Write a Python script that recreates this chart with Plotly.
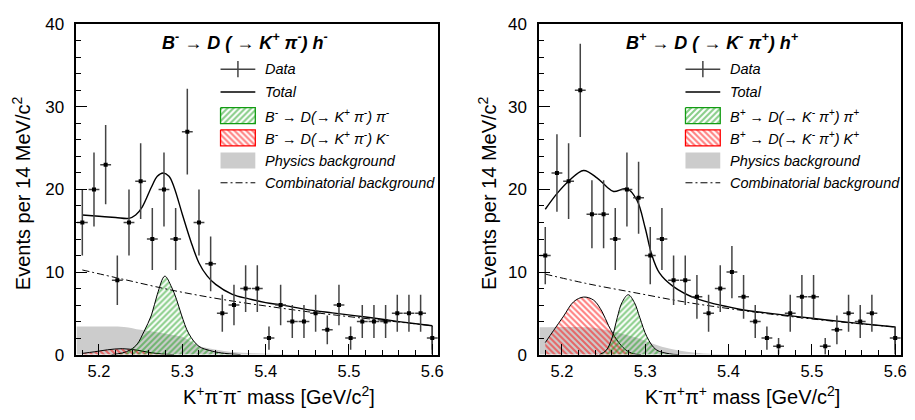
import numpy as np
import plotly.graph_objects as go

# ---------------- data ----------------
bin_centers = [5.180, 5.194, 5.208, 5.222, 5.236, 5.250, 5.264, 5.278, 5.292, 5.306,
               5.320, 5.334, 5.348, 5.362, 5.376, 5.390, 5.404, 5.418, 5.432, 5.446,
               5.460, 5.474, 5.488, 5.502, 5.516, 5.530, 5.544, 5.558, 5.572, 5.586, 5.600]
left_counts = [16, 20, 23, 9, 16, 21, 14, 20, 14, 27, 16, 11, 5, 6, 8, 8, 2, 6, 4, 4,
               5, 3, 6, 2, 4, 4, 4, 5, 5, 5, 2]
right_counts = [12, 22, 21, 32, 17, 17, 14, 20, 19, 12, 14, 9, 9, 7, 5, 8, 10, 7, 4, 2,
                1, 5, 7, 7, 1, 3, 5, 4, 5, 0, 2]

# left panel curves
left_total_x = [5.180, 5.200, 5.220, 5.236, 5.244, 5.252, 5.263, 5.270, 5.277, 5.284, 5.290,
                5.300, 5.310, 5.320, 5.330, 5.340, 5.360, 5.380, 5.400, 5.420, 5.450, 5.480,
                5.520, 5.560, 5.600]
left_total_y = [16.9, 16.75, 16.6, 16.5, 16.9, 17.9, 20.3, 21.6, 22.0, 21.6, 20.3,
                17.0, 13.8, 11.1, 9.5, 8.5, 7.3, 6.75, 6.3, 6.0, 5.45, 5.05,
                4.55, 4.0, 3.5]
left_comb_x = [5.180, 5.230, 5.290, 5.350, 5.410, 5.450, 5.500, 5.550, 5.600]
left_comb_y = [10.25, 9.1, 7.75, 6.65, 5.75, 5.2, 4.6, 4.05, 3.5]
left_dpi_x = [5.215, 5.228, 5.238, 5.246, 5.254, 5.263, 5.270, 5.279, 5.287, 5.293,
              5.299, 5.308, 5.320, 5.333, 5.347, 5.370]
left_dpi_y = [0.0, 0.2, 0.6, 1.3, 2.8, 4.8, 7.3, 9.5, 8.2, 6.7,
              4.8, 2.5, 1.0, 0.5, 0.2, 0.0]
left_dk_x = [5.180, 5.195, 5.210, 5.228, 5.245, 5.260, 5.275, 5.290]
left_dk_y = [0.15, 0.35, 0.58, 0.72, 0.55, 0.28, 0.08, 0.0]
left_phys_x = [5.173, 5.200, 5.230, 5.250, 5.270, 5.290, 5.300, 5.310, 5.320, 5.330,
               5.350, 5.380, 5.420, 5.460]
left_phys_y = [3.4, 3.4, 3.35, 3.0, 2.7, 2.35, 2.15, 1.6, 1.05, 0.8,
               0.45, 0.2, 0.07, 0.0]

# right panel curves
right_total_x = [5.180, 5.194, 5.208, 5.226, 5.242, 5.254, 5.262, 5.278, 5.290, 5.300,
                 5.3075, 5.317, 5.333, 5.361, 5.413, 5.450, 5.500, 5.550, 5.600]
right_total_y = [17.6, 19.5, 21.0, 22.3, 21.4, 20.3, 19.75, 20.1, 18.7, 15.3,
                 12.2, 9.9, 8.3, 6.8, 5.5, 5.0, 4.4, 3.85, 3.35]
right_comb_x = [5.180, 5.230, 5.290, 5.350, 5.410, 5.450, 5.500, 5.550, 5.600]
right_comb_y = [9.75, 8.6, 7.45, 6.33, 5.44, 4.91, 4.32, 3.8, 3.35]
right_dpi_x = [5.245, 5.253, 5.260, 5.2664, 5.272, 5.2796, 5.287, 5.2935, 5.302,
               5.313, 5.329, 5.340]
right_dpi_y = [0.0, 0.5, 2.0, 4.47, 6.3, 7.25, 6.3, 4.47, 2.16, 0.6, 0.1, 0.0]
right_dk_x = [5.180, 5.190, 5.202, 5.214, 5.226, 5.238, 5.248, 5.256, 5.266, 5.276,
              5.286, 5.295]
right_dk_y = [1.46, 2.93, 4.66, 6.4, 6.97, 6.6, 5.24, 3.5, 1.77, 0.62, 0.1, 0.0]
right_phys_x = [5.173, 5.200, 5.230, 5.250, 5.270, 5.290, 5.310, 5.330, 5.350, 5.370,
                5.400, 5.430]
right_phys_y = [3.3, 3.35, 3.3, 3.05, 2.6, 2.05, 1.3, 0.7, 0.35, 0.15, 0.05, 0.0]

x_tick_labels = ["5.2", "5.3", "5.4", "5.5", "5.6"]
x_tick_vals = [5.2, 5.3, 5.4, 5.5, 5.6]
y_tick_vals = [0, 10, 20, 30, 40]

left_title = "<b><i>B<sup>-</sup> → D ( → K<sup>+</sup> π<sup>-</sup>) h<sup>-</sup></i></b>"
right_title = "<b><i>B<sup>+</sup> → D ( → K<sup>-</sup> π<sup>+</sup>) h<sup>+</sup></i></b>"
left_legend = ["Data", "Total",
               "B<sup>-</sup> → D(→ K<sup>+</sup> π<sup>-</sup>) π<sup>-</sup>",
               "B<sup>-</sup> → D(→ K<sup>+</sup> π<sup>-</sup>) K<sup>-</sup>",
               "Physics background", "Combinatorial background"]
right_legend = ["Data", "Total",
                "B<sup>+</sup> → D(→ K<sup>-</sup> π<sup>+</sup>) π<sup>+</sup>",
                "B<sup>+</sup> → D(→ K<sup>-</sup> π<sup>+</sup>) K<sup>+</sup>",
                "Physics background", "Combinatorial background"]
y_title = "Events per 14 MeV/c<sup>2</sup>"
left_x_title = "K<sup>+</sup>π<sup>-</sup>π<sup>-</sup> mass [GeV/c<sup>2</sup>]"
right_x_title = "K<sup>-</sup>π<sup>+</sup>π<sup>+</sup> mass [GeV/c<sup>2</sup>]"

# ---------------- styles / layout constants ----------------
W, H = 915, 420
FONT = "Liberation Sans, Arial, Helvetica, sans-serif"
GREEN = "#129c12"
RED = "#ff0000"
GRAY = "#cccccc"
ERRC = "#444444"
COMB_DASH = "7px,3px,2px,3px"
HALF_BIN = 0.0065
X_RANGE = [5.173, 5.607]
Y_RANGE = [0, 40]
PANELS_PX = [(77, 441), (543, 907)]
Y_PX = (16, 362)
HATCH = dict(bgcolor="rgba(0,0,0,0)", size=4.2, solidity=0.5)

fig = go.Figure()


def add_panel(xa, ya, counts, phys, dk, dpi, comb, total):
    fig.add_trace(go.Scatter(x=phys[0], y=phys[1], xaxis=xa, yaxis=ya, mode="lines",
                             line=dict(width=0, shape="spline"), fill="tozeroy",
                             fillcolor=GRAY, showlegend=False, hoverinfo="skip"))
    fig.add_trace(go.Scatter(x=dk[0], y=dk[1], xaxis=xa, yaxis=ya, mode="lines",
                             line=dict(color="black", width=1, shape="spline"),
                             fill="tozeroy", fillcolor="rgba(0,0,0,0)",
                             fillpattern=dict(shape="\\", fgcolor=RED, **HATCH),
                             showlegend=False))
    fig.add_trace(go.Scatter(x=dpi[0], y=dpi[1], xaxis=xa, yaxis=ya, mode="lines",
                             line=dict(color="black", width=1, shape="spline"),
                             fill="tozeroy", fillcolor="rgba(0,0,0,0)",
                             fillpattern=dict(shape="/", fgcolor=GREEN, **HATCH),
                             showlegend=False))
    fig.add_trace(go.Scatter(x=comb[0], y=comb[1], xaxis=xa, yaxis=ya, mode="lines",
                             line=dict(color="black", width=1, dash=COMB_DASH,
                                       shape="spline"), showlegend=False))
    fig.add_trace(go.Scatter(x=total[0], y=total[1], xaxis=xa, yaxis=ya, mode="lines",
                             line=dict(color="black", width=1.4, shape="spline"),
                             showlegend=False))
    fig.add_trace(go.Scatter(x=[total[0][-1], total[0][-1]], y=[total[1][-1], 0],
                             xaxis=xa, yaxis=ya, mode="lines",
                             line=dict(color="black", width=1.4), showlegend=False))
    c = np.array(counts, dtype=float)
    xb = np.array(bin_centers)
    keep = c > 0
    fig.add_trace(go.Scatter(x=xb[keep], y=c[keep], xaxis=xa, yaxis=ya, mode="markers",
                             marker=dict(symbol="square", size=4, color="black"),
                             error_y=dict(type="data", array=np.sqrt(c[keep]),
                                          color=ERRC, thickness=1.5, width=0),
                             error_x=dict(type="constant", value=HALF_BIN,
                                          color=ERRC, thickness=1.5, width=0),
                             showlegend=False))


add_panel("x", "y", left_counts, (left_phys_x, left_phys_y), (left_dk_x, left_dk_y),
          (left_dpi_x, left_dpi_y), (left_comb_x, left_comb_y),
          (left_total_x, left_total_y))
add_panel("x2", "y2", right_counts, (right_phys_x, right_phys_y),
          (right_dk_x, right_dk_y), (right_dpi_x, right_dpi_y),
          (right_comb_x, right_comb_y), (right_total_x, right_total_y))

# ---------------- legend glyphs on a pixel overlay axis ----------------
LEG_X0 = [222, 690]
LEG_LEN = 35
LEG_TEXT_GAP = 8
LEG_ROWS = [63, 87, 111.7, 135, 158.7, 182]
BOX_HALF = 8.4
TICK_HALF = 8.5
annotations = []
for p, labels in enumerate([left_legend, right_legend]):
    x0 = LEG_X0[p]
    x1 = x0 + LEG_LEN
    xm = (x0 + x1) / 2
    # Data
    fig.add_trace(go.Scatter(x=[x0, x1], y=[LEG_ROWS[0]] * 2, xaxis="x3", yaxis="y3",
                             mode="lines", line=dict(color=ERRC, width=1.5),
                             showlegend=False, hoverinfo="skip"))
    fig.add_trace(go.Scatter(x=[xm, xm], y=[LEG_ROWS[0] - TICK_HALF,
                                            LEG_ROWS[0] + TICK_HALF],
                             xaxis="x3", yaxis="y3", mode="lines",
                             line=dict(color=ERRC, width=1.5),
                             showlegend=False, hoverinfo="skip"))
    # Total
    fig.add_trace(go.Scatter(x=[x0, x1], y=[LEG_ROWS[1]] * 2, xaxis="x3", yaxis="y3",
                             mode="lines", line=dict(color="black", width=1.4),
                             showlegend=False, hoverinfo="skip"))
    # hatched boxes
    for row, (shape, col) in zip([2, 3], [("/", GREEN), ("\\", RED)]):
        yc = LEG_ROWS[row]
        fig.add_trace(go.Scatter(x=[x0, x1, x1, x0, x0],
                                 y=[yc - BOX_HALF, yc - BOX_HALF, yc + BOX_HALF,
                                    yc + BOX_HALF, yc - BOX_HALF],
                                 xaxis="x3", yaxis="y3", mode="lines",
                                 line=dict(color=col, width=1.3), fill="toself",
                                 fillcolor="rgba(0,0,0,0)",
                                 fillpattern=dict(shape=shape, fgcolor=col, **HATCH),
                                 showlegend=False, hoverinfo="skip"))
    yc = LEG_ROWS[4]
    fig.add_trace(go.Scatter(x=[x0, x1, x1, x0, x0],
                             y=[yc - BOX_HALF, yc - BOX_HALF, yc + BOX_HALF,
                                yc + BOX_HALF, yc - BOX_HALF],
                             xaxis="x3", yaxis="y3", mode="lines",
                             line=dict(width=0), fill="toself", fillcolor=GRAY,
                             showlegend=False, hoverinfo="skip"))
    fig.add_trace(go.Scatter(x=[x0, x1], y=[LEG_ROWS[5]] * 2, xaxis="x3", yaxis="y3",
                             mode="lines", line=dict(color="black", width=1,
                                                     dash=COMB_DASH),
                             showlegend=False, hoverinfo="skip"))
    for row, lab in enumerate(labels):
        annotations.append(dict(x=x1 + LEG_TEXT_GAP, y=LEG_ROWS[row], xref="x3",
                                yref="y3", text=lab, showarrow=False, xanchor="left",
                                yanchor="middle",
                                font=dict(family=FONT, size=14.5, color="black",
                                          style="italic")))

# titles
TITLE_POS = [(247, 34), (717, 34)]
for (tx, ty), t in zip(TITLE_POS, [left_title, right_title]):
    annotations.append(dict(x=tx, y=ty, xref="x3", yref="y3", text=t, showarrow=False,
                            xanchor="center", yanchor="middle",
                            font=dict(family=FONT, size=18, color="black")))
for yx in [21, 490]:
    annotations.append(dict(x=yx, y=193, xref="x3", yref="y3", text=y_title,
                            showarrow=False, textangle=-90, xanchor="center",
                            yanchor="middle", font=dict(family=FONT, size=20,
                                                        color="black")))
for (tx, t) in [(281, left_x_title), (747, right_x_title)]:
    annotations.append(dict(x=tx, y=405, xref="x3", yref="y3", text=t,
                            showarrow=False, xanchor="center", yanchor="middle",
                            font=dict(family=FONT, size=20, color="black")))

ydom = [1 - Y_PX[1] / H, 1 - Y_PX[0] / H]
common_x = dict(range=X_RANGE, tickvals=x_tick_vals, ticktext=x_tick_labels,
                ticks="inside", ticklen=11, tickwidth=1, tickcolor="black",
                minor=dict(ticks="inside", ticklen=5, dtick=0.02, tick0=5.2,
                           tickcolor="black", tickwidth=1),
                showline=True, linewidth=2, linecolor="black", mirror=True,
                showgrid=False, zeroline=False, ticklabelstandoff=1,
                tickfont=dict(family=FONT, size=16.5, color="black"))
common_y = dict(range=Y_RANGE, tickvals=y_tick_vals, domain=ydom,
                ticks="inside", ticklen=11, tickwidth=1, tickcolor="black",
                minor=dict(ticks="inside", ticklen=5, dtick=2, tickcolor="black",
                           tickwidth=1),
                showline=True, linewidth=2, linecolor="black", mirror=True,
                showgrid=False, zeroline=False, ticklabelstandoff=7,
                tickfont=dict(family=FONT, size=17, color="black"))

fig.update_layout(
    width=W, height=H, margin=dict(l=0, r=0, t=0, b=0),
    paper_bgcolor="white", plot_bgcolor="rgba(0,0,0,0)",
    showlegend=False,
    xaxis=dict(domain=[PANELS_PX[0][0] / W, PANELS_PX[0][1] / W], anchor="y", **common_x),
    yaxis=dict(anchor="x", **common_y),
    xaxis2=dict(domain=[PANELS_PX[1][0] / W, PANELS_PX[1][1] / W], anchor="y2", **common_x),
    yaxis2=dict(anchor="x2", **common_y),
    xaxis3=dict(domain=[0, 1], range=[0, W], visible=False, anchor="y3",
                fixedrange=True),
    yaxis3=dict(domain=[0, 1], range=[H, 0], visible=False, anchor="x3",
                fixedrange=True),
    annotations=annotations,
)

# the page's default body margin would offset the figure; remove it
fig.write_html("out.html", config={"displayModeBar": False},
               post_script="document.body.style.margin='0px';"
                           "document.body.style.padding='0px';")
